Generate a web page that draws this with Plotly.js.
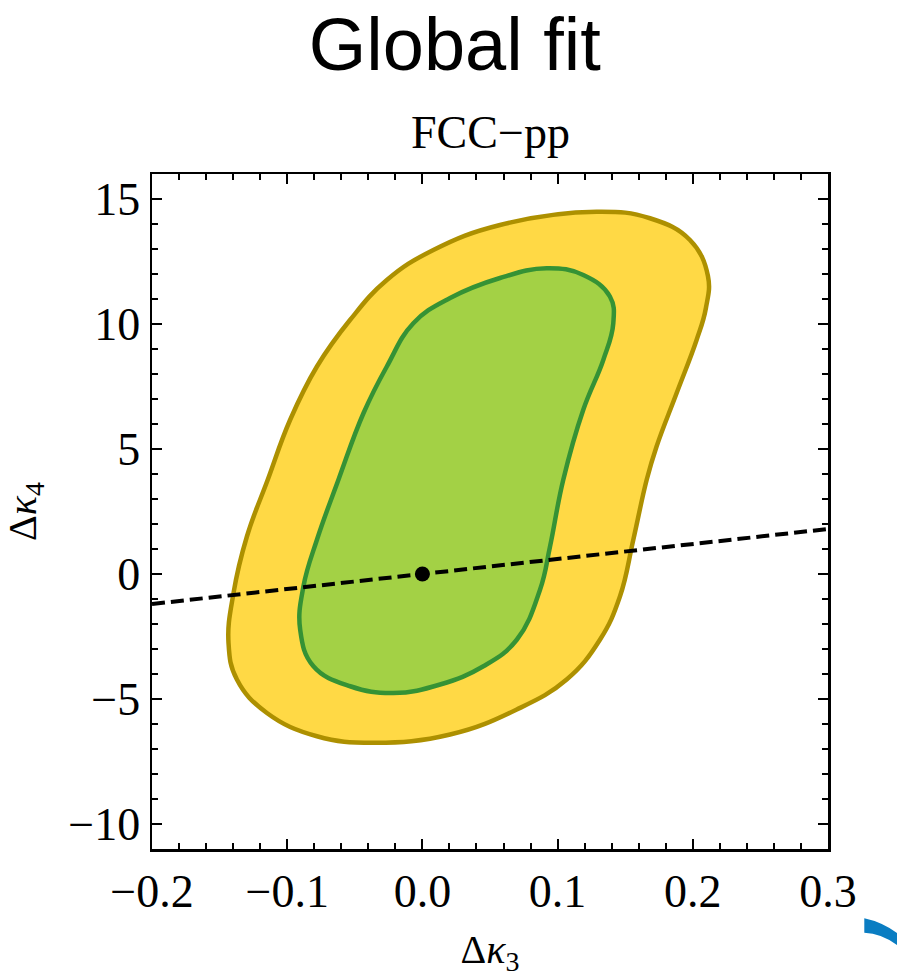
<!DOCTYPE html>
<html>
<head>
<meta charset="utf-8">
<script src="https://cdn.plot.ly/plotly-3.0.1.min.js"></script>
<style>html,body{margin:0;padding:0;background:#fff;}#chart{width:897px;height:977px;}</style>
</head>
<body>
<div id="chart"></div>
<script>
// 2-sigma (outer, yellow) contour
var outerX = [0.1289, 0.1683, 0.1979, 0.2112, 0.2097, 0.2028, 0.1880, 0.1732, 0.1659, 0.1560, 0.1461, 0.1313, 0.1067, 0.0698, 0.0205, -0.0362, -0.0780, -0.1150, -0.1372, -0.1434, -0.1397, -0.1298, -0.1144, -0.0978, -0.0780, -0.0534, -0.0263, 0.0081, 0.0574, 0.1289];
var outerY = [14.49, 14.23, 13.36, 11.92, 10.64, 9.36, 7.23, 5.10, 3.77, 1.37, -0.90, -2.63, -4.22, -5.42, -6.42, -6.75, -6.49, -5.56, -4.22, -2.76, -0.76, 1.50, 3.77, 6.17, 8.30, 10.17, 11.76, 12.96, 13.96, 14.49];
// 1-sigma (inner, green) contour
var innerX = [0.0919, 0.1190, 0.1387, 0.1412, 0.1338, 0.1190, 0.1042, 0.0944, 0.0870, 0.0698, 0.0451, 0.0131, -0.0214, -0.0534, -0.0806, -0.0904, -0.0880, -0.0780, -0.0621, -0.0436, -0.0263, -0.0067, 0.0205, 0.0574, 0.0919];
var innerY = [12.23, 11.96, 11.10, 10.03, 8.56, 6.57, 3.77, 1.10, -0.63, -2.63, -3.69, -4.42, -4.76, -4.49, -3.69, -2.23, -0.50, 1.37, 3.77, 6.43, 8.30, 10.03, 11.04, 11.84, 12.23];
// dashed reference line
var lineX = [-0.2, 0.3];
var lineY = [-1.2, 1.8];
// best-fit / SM point
var pointX = [0];
var pointY = [0];
// tick values
var xTicks = [-0.2, -0.1, 0.0, 0.1, 0.2, 0.3];
var xTickText = ['\u22120.2', '\u22120.1', '0.0', '0.1', '0.2', '0.3'];
var yTicks = [-10, -5, 0, 5, 10, 15];
var yTickText = ['\u221210', '\u22125', '0', '5', '10', '15'];

var serif = 'Liberation Serif, Times New Roman, serif';

var traces = [
  {x: outerX, y: outerY, type: 'scatter', mode: 'lines', fill: 'toself',
   fillcolor: '#FFD945', line: {color: '#AD9000', width: 4.5, shape: 'spline', smoothing: 1.2}, hoverinfo: 'skip'},
  {x: innerX, y: innerY, type: 'scatter', mode: 'lines', fill: 'toself',
   fillcolor: '#A3D145', line: {color: '#359235', width: 4.5, shape: 'spline', smoothing: 1.2}, hoverinfo: 'skip'},
  {x: lineX, y: lineY, type: 'scatter', mode: 'lines',
   line: {color: '#000', width: 4, dash: '13px,6px'}, hoverinfo: 'skip'},
  {x: pointX, y: pointY, type: 'scatter', mode: 'markers',
   marker: {color: '#000', size: 15}, hoverinfo: 'skip'}
];

var axisCommon = {
  showgrid: false, zeroline: false, showline: true, linecolor: '#000', linewidth: 2.5,
  mirror: 'allticks', ticks: 'inside', ticklen: 10, tickwidth: 2, tickcolor: '#000',
  tickfont: {family: serif, size: 46, color: '#000'}, fixedrange: true
};

var layout = {
  width: 897, height: 977,
  margin: {l: 152, r: 69, t: 174, b: 128},
  paper_bgcolor: '#fff', plot_bgcolor: '#fff',
  showlegend: false,
  title: {text: 'Global fit', font: {family: 'Liberation Sans, Arial, sans-serif', size: 74, color: '#000'},
          x: 0.507, xref: 'container', y: 0.955, yref: 'container', yanchor: 'middle', xanchor: 'center'},
  xaxis: Object.assign({}, axisCommon, {
    range: [-0.2, 0.3], tickvals: xTicks, ticktext: xTickText,
    minor: {dtick: 0.02, tick0: 0, ticks: 'inside', ticklen: 6, tickwidth: 2, tickcolor: '#000', showgrid: false},
    title: {text: '\u0394<i>\u03ba</i><sub>3</sub>', font: {family: serif, size: 40, color: '#000'}, standoff: 20}
  }),
  yaxis: Object.assign({}, axisCommon, {
    range: [-11, 16], tickvals: yTicks, ticktext: yTickText,
    minor: {dtick: 1, tick0: 0, ticks: 'inside', ticklen: 6, tickwidth: 2, tickcolor: '#000', showgrid: false},
    title: {text: '\u0394<i>\u03ba</i><sub>4</sub>', font: {family: serif, size: 40, color: '#000'}, standoff: 26}
  }),
  annotations: [
    {text: 'FCC\u2212pp', xref: 'paper', yref: 'paper', x: 0.5, y: 1.062, xanchor: 'center', yanchor: 'middle',
     showarrow: false, font: {family: serif, size: 46, color: '#000'}}
  ],
  shapes: [
    {type: 'path', xref: 'paper', yref: 'paper', layer: 'above',
     path: 'M 1.0537 -0.1027 Q 1.0790 -0.1080 1.1021 -0.1244 L 1.1021 -0.1422 Q 1.0790 -0.1250 1.0537 -0.1240 Z',
     fillcolor: '#0A7DC2', line: {width: 0}}
  ]
};

Plotly.newPlot('chart', traces, layout, {displayModeBar: false, staticPlot: true});
</script>
</body>
</html>
